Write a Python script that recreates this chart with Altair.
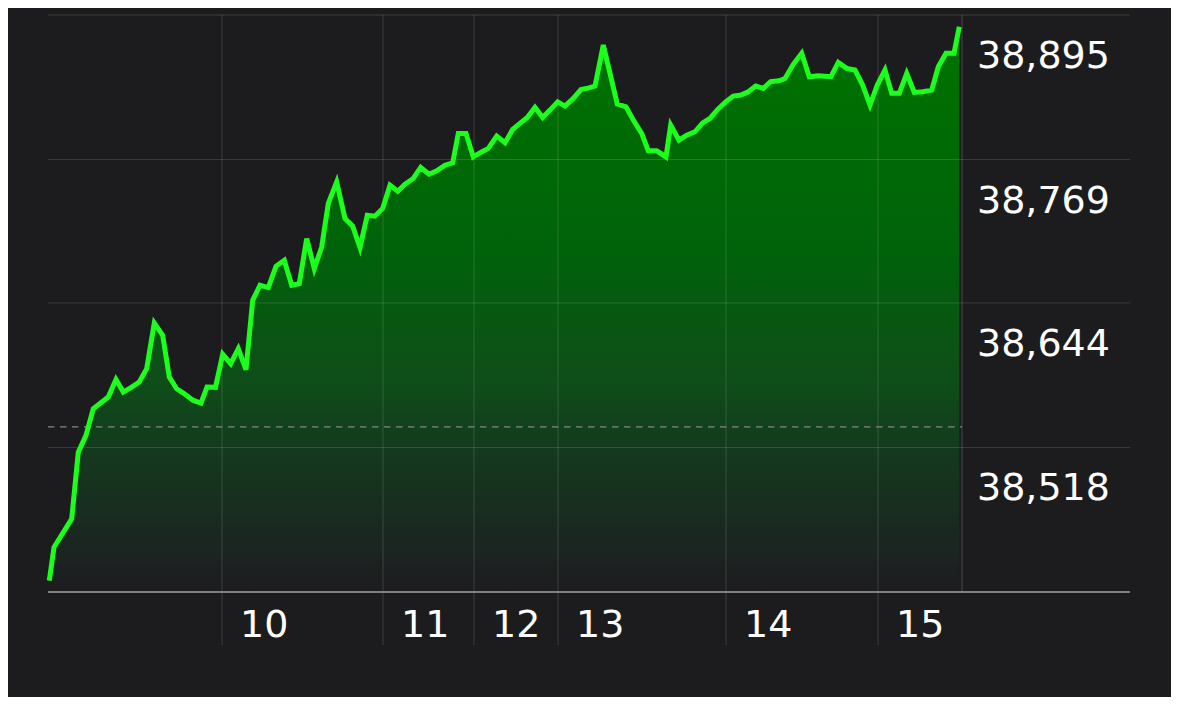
import altair as alt
import pandas as pd

# intraday time position (session units) and index level
t = [1.3, 6.0, 23.7, 30.3, 38.0, 45.3, 52.0, 60.3, 68.0, 75.3,
     83.7, 91.3, 98.7, 106.3, 114.7, 121.3, 128.7, 135.3, 145.3, 153.0,
     159.0, 167.5, 174.7, 182.7, 190.3, 198.0, 204.7, 212.0, 220.3, 228.0,
     236.3, 243.7, 251.3, 258.7, 266.3, 273.7, 280.3, 288.7, 297.0, 304.7,
     312.0, 319.3, 327.0, 334.7, 342.0, 349.8, 357.0, 365.3, 372.7, 381.0,
     388.7, 397.0, 404.7, 410.3, 418.0, 425.3, 432.7, 440.3, 448.7, 457.0,
     464.7, 472.0, 479.3, 487.0, 494.7, 502.0, 509.7, 517.0, 525.3, 533.0,
     540.0, 547.0, 555.3, 569.3, 578.0, 585.3, 593.7, 600.3, 608.7, 618.0,
     622.7, 631.0, 638.7, 647.0, 654.7, 662.0, 669.7, 677.7, 685.3, 693.0,
     700.3, 707.7, 715.3, 722.7, 731.0, 737.0, 745.3, 753.7, 761.3, 770.3,
     783.0, 790.3, 798.7, 807.0, 814.7, 822.0, 829.3, 837.0, 843.7, 851.3,
     858.7, 866.3, 874.7, 883.7, 890.3, 898.0, 906.0, 911.3]

price = [38401.9, 38431.0, 38455.8, 38513.9, 38528.5, 38551.8, 38556.4, 38561.9, 38577.3, 38566.3,
         38570.6, 38575.0, 38586.7, 38626.5, 38615.7, 38579.3, 38569.2, 38565.4, 38559.0, 38556.7,
         38570.6, 38570.4, 38599.2, 38591.0, 38604.1, 38585.8, 38646.3, 38659.4, 38657.4, 38675.9,
         38681.2, 38659.4, 38660.8, 38700.1, 38673.9, 38692.8, 38730.7, 38749.5, 38717.6, 38710.9,
         38692.3, 38720.5, 38719.6, 38726.3, 38746.6, 38741.4, 38747.5, 38752.5, 38762.1, 38756.2,
         38759.1, 38764.1, 38766.1, 38791.8, 38791.8, 38771.3, 38775.2, 38778.7, 38789.4, 38783.6,
         38795.2, 38800.5, 38805.7, 38814.4, 38805.7, 38812.1, 38819.3, 38815.6, 38822.3, 38830.0,
         38831.3, 38833.0, 38868.8, 38817.3, 38815.0, 38803.4, 38791.8, 38776.6, 38776.6, 38771.3,
         38799.0, 38785.9, 38790.3, 38793.2, 38801.0, 38804.8, 38812.7, 38819.3, 38824.3, 38825.2,
         38828.1, 38833.0, 38831.0, 38837.0, 38837.7, 38839.6, 38852.0, 38861.6, 38841.2, 38842.0,
         38841.2, 38853.7, 38848.5, 38847.0, 38833.9, 38816.5, 38833.9, 38847.0, 38826.7, 38826.7,
         38844.1, 38827.5, 38828.1, 38829.5, 38849.9, 38861.6, 38861.6, 38884.8]

grid_values = [38895, 38769, 38644, 38518]
grid_labels = ["38,895", "38,769", "38,644", "38,518"]
hour_pos = [174, 335, 426, 510, 678, 830]
hour_labels = ["10", "11", "12", "13", "14", "15"]
prev_close = 38536
session_end = 914
y_min, y_max = 38392, 38895

df = pd.DataFrame({"t": t, "price": price})
grid_df = pd.DataFrame({"v": grid_values, "label": grid_labels})
hour_df = pd.DataFrame({"t": hour_pos, "label": hour_labels})
end_df = pd.DataFrame({"t": [session_end]})
prev_df = pd.DataFrame({"v": [prev_close]})

W, H = 914, 577
FONT = "DejaVu Sans"
xs = alt.Scale(domain=[0, session_end], nice=False, zero=False)
ys = alt.Scale(domain=[y_min, y_max], nice=False, zero=False)
X = alt.X("t:Q", scale=xs, axis=None)

grad = alt.Gradient(
    gradient="linear", x1=0, y1=0, x2=0, y2=1,
    stops=[
        alt.GradientStop(color="#007400", offset=0),
        alt.GradientStop(color="#00620a", offset=0.4),
        alt.GradientStop(color="#0f4d19", offset=0.63),
        alt.GradientStop(color="#14381e", offset=0.76),
        alt.GradientStop(color="#1c2421", offset=0.93),
        alt.GradientStop(color="#1c1c1f", offset=1),
    ],
)

area = alt.Chart(df).mark_area(color=grad, line=False).encode(
    x=X,
    y=alt.Y("price:Q", scale=ys, axis=None, stack=None),
    y2=alt.datum(y_min),
)

hgrid = alt.Chart(grid_df).mark_rule(color="#ffffff", opacity=0.14, strokeWidth=1).encode(
    y=alt.Y("v:Q", scale=ys, axis=None), x=alt.value(0), x2=alt.value(1082)
)

vgrid = alt.Chart(hour_df).mark_rule(color="#ffffff", opacity=0.14, strokeWidth=1).encode(
    x=X, y=alt.value(0), y2=alt.value(630)
)

edge = alt.Chart(end_df).mark_rule(color="#ffffff", opacity=0.2, strokeWidth=1).encode(
    x=X, y=alt.value(0), y2=alt.value(H)
)

prev = alt.Chart(prev_df).mark_rule(color="#85858a", strokeWidth=1.2, strokeDash=[6.5, 5.5]).encode(
    y=alt.Y("v:Q", scale=ys, axis=None), x=alt.value(0), x2=alt.value(W)
)

base = alt.Chart(end_df).mark_rule(color="#a2a2a7", strokeWidth=1.4).encode(
    y=alt.value(H), x=alt.value(0), x2=alt.value(1082)
)

line = alt.Chart(df).mark_line(color="#1cff1c", strokeWidth=5, strokeJoin="miter").encode(
    x=X, y=alt.Y("price:Q", scale=ys, axis=None)
)

ylab = alt.Chart(grid_df).mark_text(
    font=FONT, fontSize=38, color="#ffffff", align="left", baseline="alphabetic", dy=53
).encode(y=alt.Y("v:Q", scale=ys, axis=None), x=alt.value(929), text="label:N")

xlab = alt.Chart(hour_df).mark_text(
    font=FONT, fontSize=38, color="#ffffff", align="left", baseline="alphabetic", dx=18
).encode(x=X, y=alt.value(622), text="label:N")

chart = alt.layer(area, hgrid, vgrid, edge, prev, base, line, ylab, xlab).properties(
    width=W, height=H,
    padding={"left": 40, "top": 7, "right": 209, "bottom": 105},
    autosize=alt.AutoSizeParams(type="none"),
    background="#1c1c1e",
).configure_view(stroke=None)

chart.save("out.html", embed_options={"renderer": "svg", "actions": False})
